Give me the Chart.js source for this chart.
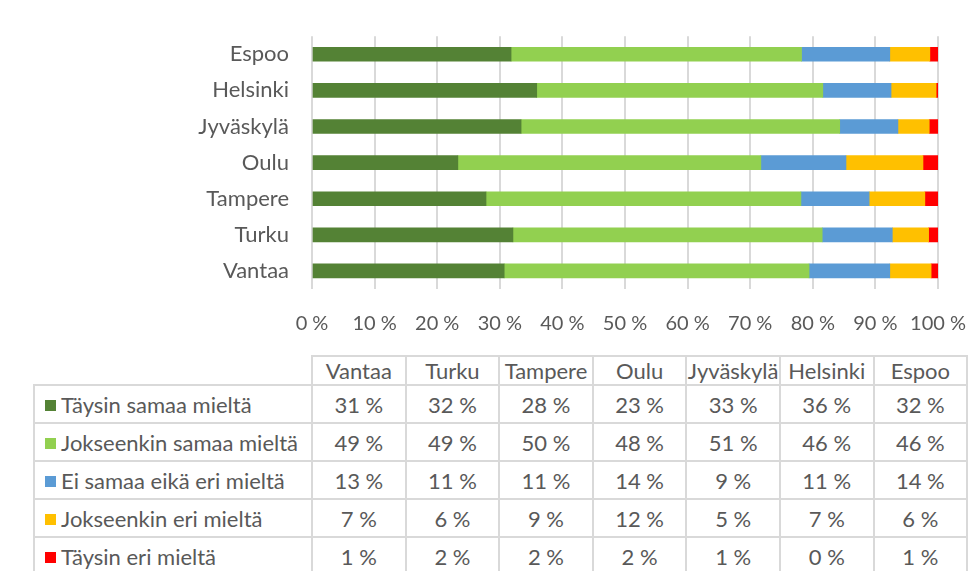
<!DOCTYPE html>
<html>
<head>
<meta charset="utf-8">
<script src="https://cdn.jsdelivr.net/npm/chart.js@4"></script>
<style>
  html, body { margin: 0; padding: 0; background: #fff; }
  body { width: 970px; height: 571px; position: relative; overflow: hidden; font-family: Lato, "Open Sans", sans-serif; color: #595959; }
  #wrap { position: absolute; left: 0; top: 0; width: 970px; height: 345px; }
  #dataTable { position: absolute; left: 33px; top: 355px; border-collapse: collapse; table-layout: fixed; font-size: 22px; }
  #dataTable td { border: 2px solid #d9d9d9; height: 36px; padding: 0; text-align: center; white-space: nowrap; overflow: hidden; }
  #dataTable tr.head td { height: 26px; }
  #dataTable td.blank { border-top: none; border-left: none; }
  #dataTable td.lbl { text-align: left; padding-left: 10px; }
  .sw { display: inline-block; width: 11px; height: 11px; margin-right: 5px; vertical-align: 2px; }
</style>
</head>
<body>
<div id="wrap"><canvas id="BarChart" width="970" height="345"></canvas></div>
<table id="dataTable"></table>
<script>
// categories in the order of the data table (Excel puts the first one at the bottom)
const cities = ['Vantaa', 'Turku', 'Tampere', 'Oulu', 'Jyväskylä', 'Helsinki', 'Espoo'];
const seriesNames = ['Täysin samaa mieltä', 'Jokseenkin samaa mieltä', 'Ei samaa eikä eri mieltä', 'Jokseenkin eri mieltä', 'Täysin eri mieltä'];
const taysinSamaa = [30.7, 32.1, 27.8, 23.3, 33.4, 35.9, 31.8];
const jokseenkinSamaa = [48.7, 49.4, 50.3, 48.4, 50.9, 45.7, 46.4];
const eiSamaaEikaEri = [12.9, 11.2, 10.9, 13.6, 9.3, 10.9, 14.1];
const jokseenkinEri = [6.6, 5.8, 8.9, 12.3, 5.0, 7.2, 6.4];
const taysinEri = [1.1, 1.5, 2.1, 2.4, 1.4, 0.3, 1.3];
const xTicks = [0, 10, 20, 30, 40, 50, 60, 70, 80, 90, 100];

const seriesValues = [taysinSamaa, jokseenkinSamaa, eiSamaaEikaEri, jokseenkinEri, taysinEri];
const colors = ['#548235', '#92d050', '#5b9bd5', '#ffc000', '#ff0000'];

const barData = {
  labels: cities,
  datasets: seriesNames.map((name, i) => ({
    label: name,
    data: seriesValues[i],
    backgroundColor: colors[i],
    borderWidth: 0,
    barThickness: 14
  }))
};

const ctx = document.getElementById('BarChart');
const myChart = new Chart(ctx, {
  type: 'bar',
  data: barData,
  options: {
    indexAxis: 'y',
    responsive: false,
    animation: false,
    devicePixelRatio: 1,
    layout: { padding: { left: 0, right: 32, top: 33, bottom: 0 } },
    plugins: { legend: { display: false }, tooltip: { enabled: false } },
    scales: {
      x: {
        stacked: true,
        min: 0,
        max: 100,
        afterBuildTicks: (scale) => { scale.ticks = xTicks.map(v => ({ value: v })); },
        afterFit: (scale) => {
          scale.height = 56;
          // the tick padding is also added sideways by Chart.js, drop it
          scale.paddingLeft = 0;
          scale.paddingRight = 0;
        },
        grid: { color: '#d9d9d9', lineWidth: 2, drawTicks: false },
        border: { display: false },
        ticks: {
          padding: 23,
          color: '#595959',
          font: { family: 'Lato', size: 20 },
          callback: (v) => v + '\u00a0%'
        }
      },
      y: {
        stacked: true,
        reverse: true,
        afterFit: (scale) => { scale.width = 312; },
        grid: { display: false, drawTicks: false },
        border: { display: false },
        ticks: { padding: 23, color: '#595959', font: { family: 'Lato', size: 22 } }
      }
    }
  }
});

// data table under the chart
const table = document.getElementById('dataTable');
const colgroup = document.createElement('colgroup');
[278].concat(cities.map(() => 93.6)).forEach(w => {
  const c = document.createElement('col');
  c.style.width = w + 'px';
  colgroup.appendChild(c);
});
table.appendChild(colgroup);
const head = document.createElement('tr');
head.className = 'head';
head.innerHTML = '<td class="blank"></td>' + cities.map(c => '<td>' + c + '</td>').join('');
table.appendChild(head);
seriesNames.forEach((name, i) => {
  const tr = document.createElement('tr');
  tr.innerHTML = '<td class="lbl"><span class="sw" style="background:' + colors[i] + '"></span>' + name + '</td>' +
    seriesValues[i].map(v => '<td>' + Math.round(v) + '\u00a0%</td>').join('');
  table.appendChild(tr);
});
</script>
</body>
</html>
